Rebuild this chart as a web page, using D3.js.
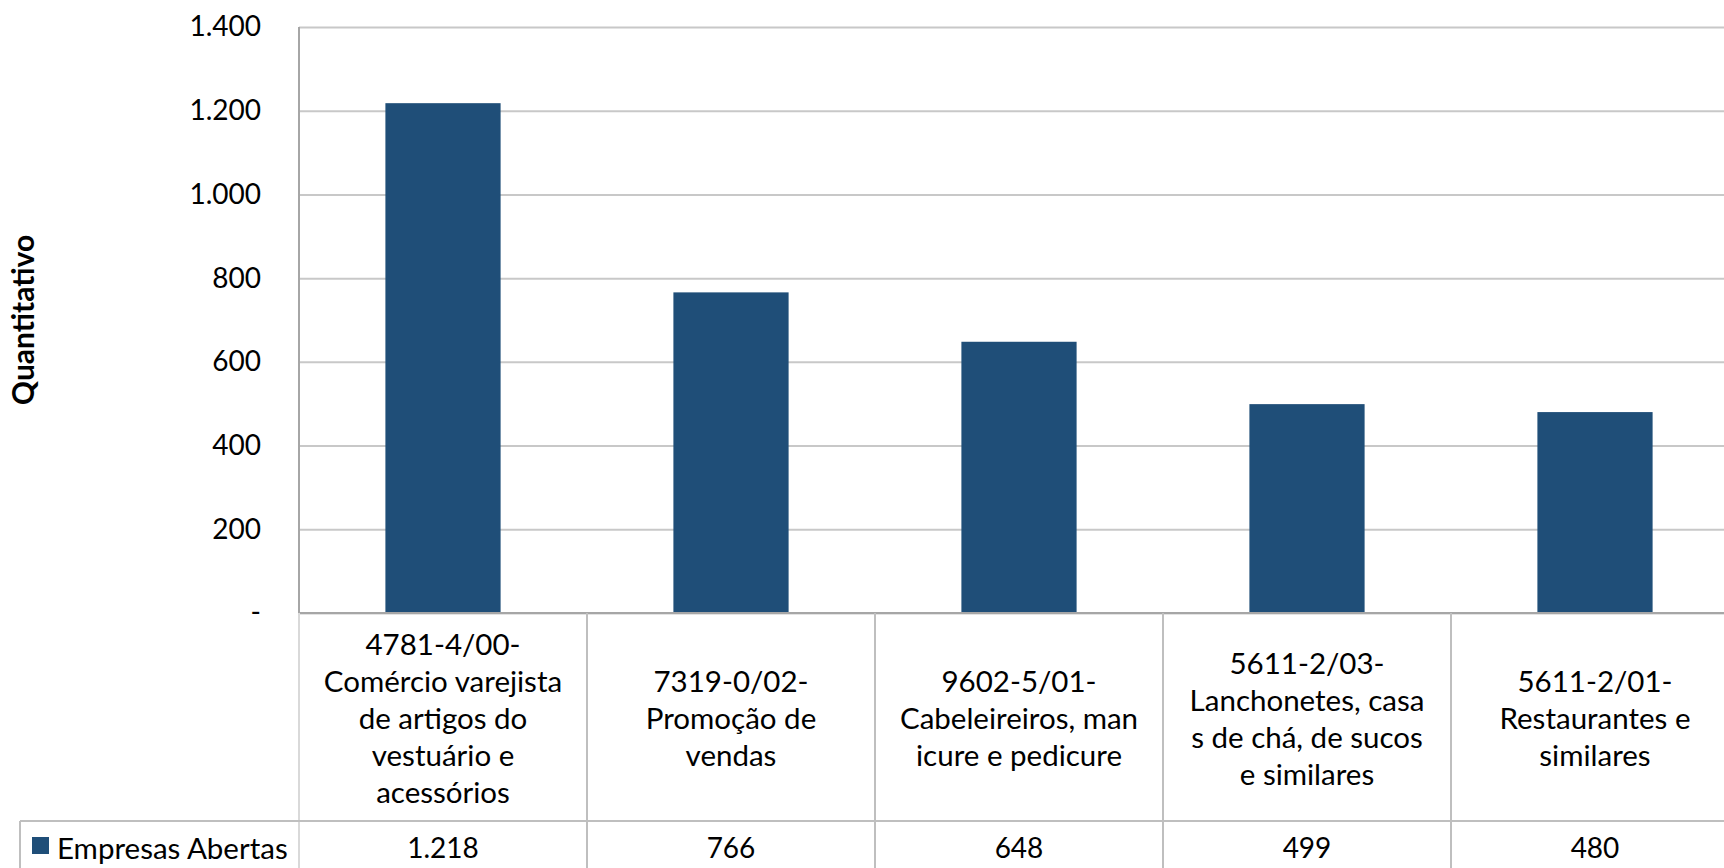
<!DOCTYPE html>
<html>
<head>
<meta charset="utf-8">
<script src="https://cdn.jsdelivr.net/npm/d3@7"></script>
<style>
  html, body { margin: 0; padding: 0; background: #fff; overflow: hidden; }
  svg { display: block; }
  text { font-family: Lato, "Open Sans", sans-serif; fill: #000; }
</style>
</head>
<body>
<svg id="chart" width="1724" height="868"></svg>
<script>
// ---- data ----
const categories = ["4781-4/00", "7319-0/02", "9602-5/01", "5611-2/03", "5611-2/01"];
const categoryLabelLines = [
  ["4781-4/00-", "Comércio varejista", "de artigos do", "vestuário e", "acessórios"],
  ["7319-0/02-", "Promoção de", "vendas"],
  ["9602-5/01-", "Cabeleireiros, man", "icure e pedicure"],
  ["5611-2/03-", "Lanchonetes, casa", "s de chá, de sucos", "e similares"],
  ["5611-2/01-", "Restaurantes e", "similares"]
];
const seriesName = "Empresas Abertas";
const values = [1218, 766, 648, 499, 480];
const yTicks = [0, 200, 400, 600, 800, 1000, 1200, 1400];
const yTitle = "Quantitativo";

// ---- layout ----
const svg = d3.select("#chart");
const plotLeft = 299, colWidth = 288;
const plotTop = 27, plotBottom = 613;
const rowDivider = 821, tableBottom = 890;
const legendLeft = 20;
const textSize = 29.5;
const numSize = 28;

const locale = d3.formatLocale({decimal: ",", thousands: ".", grouping: [3], currency: ["R$", ""]});
const fmt = locale.format(",d");
const tickFmt = v => v === 0 ? "-" : fmt(v);

const x = d3.scaleBand().domain(categories).range([plotLeft, plotLeft + colWidth * categories.length]).padding(0);
const y = d3.scaleLinear().domain([0, 1400]).range([plotBottom, plotTop]);
const barW = x.bandwidth() * 0.4;

// gridlines
svg.append("g")
  .attr("transform", `translate(${plotLeft},0)`)
  .call(d3.axisLeft(y).tickValues(yTicks).tickSize(-(x.range()[1] - plotLeft)).tickFormat(""))
  .call(g => g.select(".domain").remove())
  .call(g => g.selectAll(".tick line").attr("stroke", "#c8c8c8").attr("stroke-width", 2));

// bars
svg.append("g").selectAll("rect").data(values).join("rect")
  .attr("x", (d, i) => x(categories[i]) + (x.bandwidth() - barW) / 2)
  .attr("y", d => y(d))
  .attr("width", barW)
  .attr("height", d => y(0) - y(d))
  .attr("fill", "#1f4e78");

// y axis labels
const yAxis = svg.append("g")
  .attr("transform", `translate(${plotLeft},0)`)
  .call(d3.axisLeft(y).tickValues(yTicks).tickSize(0).tickPadding(38).tickFormat(tickFmt));
yAxis.select(".domain").remove();
yAxis.selectAll(".tick text")
  .attr("font-size", numSize)
  .style("font-family", "Lato, sans-serif")
  .attr("fill", "#000");

// axis lines (left and bottom)
svg.append("line").attr("x1", plotLeft).attr("x2", plotLeft).attr("y1", plotTop).attr("y2", plotBottom)
  .attr("stroke", "#a6a6a6").attr("stroke-width", 2);
svg.append("line").attr("x1", plotLeft).attr("x2", x.range()[1]).attr("y1", plotBottom).attr("y2", plotBottom)
  .attr("stroke", "#a6a6a6").attr("stroke-width", 2);

// y title
svg.append("text")
  .attr("transform", `translate(34,${(plotTop + plotBottom) / 2}) rotate(-90)`)
  .attr("text-anchor", "middle")
  .attr("font-size", 30)
  .attr("font-weight", "bold")
  .text(yTitle);

// ---- data table ----
const table = svg.append("g");
const gridColor = "#bfbfbf";
const bounds = categories.map(c => x(c)).concat([x.range()[1]]);
table.selectAll("line.v").data(bounds).join("line")
  .attr("x1", d => d).attr("x2", d => d)
  .attr("y1", plotBottom).attr("y2", tableBottom)
  .attr("stroke", (d, i) => i === 0 ? "#d9d9d9" : gridColor).attr("stroke-width", 2);
table.append("line").attr("x1", legendLeft).attr("x2", x.range()[1]).attr("y1", rowDivider).attr("y2", rowDivider)
  .attr("stroke", gridColor).attr("stroke-width", 2);
table.append("line").attr("x1", legendLeft).attr("x2", legendLeft).attr("y1", rowDivider).attr("y2", tableBottom)
  .attr("stroke", gridColor).attr("stroke-width", 2);

// category labels
const lineH = 37;
const cellMid = (plotBottom + rowDivider) / 2;
categories.forEach((c, i) => {
  const lines = categoryLabelLines[i];
  const cx = x(c) + x.bandwidth() / 2;
  const t = table.append("text")
    .attr("text-anchor", "middle")
    .attr("font-size", textSize)
    .attr("dominant-baseline", "central");
  lines.forEach((ln, j) => {
    t.append("tspan").attr("x", cx)
      .attr("y", cellMid + (j - (lines.length - 1) / 2) * lineH)
      .text(ln);
  });
});

// values row
const valueMid = 847;
table.selectAll("text.val").data(values).join("text")
  .attr("class", "val")
  .attr("x", (d, i) => x(categories[i]) + x.bandwidth() / 2)
  .attr("y", valueMid)
  .attr("text-anchor", "middle")
  .attr("dominant-baseline", "central")
  .attr("font-size", numSize)
  .text(d => fmt(d));

// legend key
table.append("rect").attr("x", 32).attr("y", 837).attr("width", 17).attr("height", 17).attr("fill", "#1f4e78");
table.append("text").attr("x", 57).attr("y", valueMid)
  .attr("dominant-baseline", "central")
  .attr("font-size", textSize)
  .text(seriesName);
</script>
</body>
</html>
